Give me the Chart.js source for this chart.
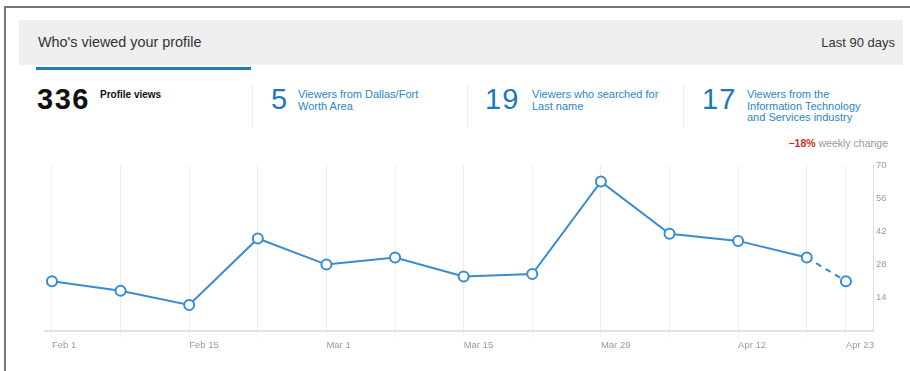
<!DOCTYPE html>
<html>
<head>
<meta charset="utf-8">
<script src="https://cdn.jsdelivr.net/npm/chart.js@4.4.1/dist/chart.umd.min.js"></script>
<style>
  body { margin: 0; background: #fff; font-family: "Liberation Sans", Arial, sans-serif; }
  .frame { position: absolute; left: 4px; top: 6px; width: 906px; height: 370px; border-top: 2px solid #777; border-left: 2px solid #777; }
  .header { position: absolute; left: 19px; top: 20px; width: 884px; height: 45px; background: #efefef; }
  .title { position: absolute; left: 38px; top: 34px; font-size: 14.4px; color: #333; }
  .range { position: absolute; right: 15px; top: 35px; font-size: 13px; color: #333; }
  .tabbar { position: absolute; left: 36px; top: 67px; width: 215px; height: 3px; background: #1f7bc1; }
  .sep { position: absolute; top: 84px; width: 1px; height: 42px; background: #ececec; }
  .big { position: absolute; top: 83px; font-size: 29px; line-height: 32px; letter-spacing: 1px; }
  .lbl { position: absolute; top: 89px; font-size: 11px; line-height: 11.5px; color: #2a86c8; }
  .change { position: absolute; right: 22px; top: 137px; font-size: 10.5px; color: #999; }
  .change b { color: #c9302c; font-weight: bold; }
  #wrap { position: absolute; left: 0; top: 150px; width: 910px; height: 221px; }
</style>
</head>
<body>
<div class="frame"></div>
<div class="header"></div>
<div class="title">Who's viewed your profile</div>
<div class="range">Last 90 days</div>
<div class="tabbar"></div>

<div class="big" style="left:37px;color:#111;font-weight:bold;letter-spacing:1.5px;">336</div>
<div class="lbl" style="left:100px;color:#111;font-weight:bold;font-size:10px;">Profile views</div>
<div class="sep" style="left:252px"></div>
<div class="big" style="left:271px;color:#1c78b8;">5</div>
<div class="lbl" style="left:298px;">Viewers from Dallas/Fort<br>Worth Area</div>
<div class="sep" style="left:467px"></div>
<div class="big" style="left:485px;color:#1c78b8;">19</div>
<div class="lbl" style="left:532px;">Viewers who searched for<br>Last name</div>
<div class="sep" style="left:683px"></div>
<div class="big" style="left:702px;color:#1c78b8;">17</div>
<div class="lbl" style="left:747px;">Viewers from the<br>Information Technology<br>and Services industry</div>
<div class="change"><b>&minus;18%</b> weekly change</div>

<div id="wrap"><canvas id="chart"></canvas></div>

<script>
// days counted from Feb 1, one point per week, last one is the partial week
const weekDays = [0, 7, 14, 21, 28, 35, 42, 49, 56, 63, 70, 77, 81];
const views = [21, 17, 11, 39, 28, 31, 23, 24, 63, 41, 38, 31, 21];
const xTickDays = [0, 14, 28, 42, 56, 70, 81];
const xTickLabels = ['Feb 1', 'Feb 15', 'Mar 1', 'Mar 15', 'Mar 29', 'Apr 12', 'Apr 23'];
const yTicks = [14, 28, 42, 56, 70];

const lineColor = '#3a8bcf';
const lastIdx = views.length - 1;

const elem = document.getElementById('chart').getContext('2d');
new Chart(elem, {
  type: 'line',
  data: {
    datasets: [{
      data: weekDays.map((d, i) => ({ x: d, y: views[i] })),
      borderColor: lineColor,
      borderWidth: 2,
      tension: 0,
      fill: false,
      pointRadius: 5,
      pointBorderWidth: 2,
      pointBackgroundColor: '#fff',
      pointBorderColor: lineColor,
      segment: {
        borderDash: ctx => (ctx.p1DataIndex === lastIdx ? [6, 5] : undefined),
      },
    }],
  },
  options: {
    responsive: true,
    maintainAspectRatio: false,
    animation: false,
    layout: { padding: { top: 15, left: 45, right: 7, bottom: 0 } },
    plugins: { legend: { display: false }, tooltip: { enabled: false } },
    scales: {
      x: {
        type: 'linear',
        bounds: 'data',
        min: -0.71,
        max: 83.76,
        afterBuildTicks: axis => { axis.ticks = weekDays.map(v => ({ value: v })); },
        afterFit: axis => { axis.height = 40; },
        grid: { color: '#eeeeee', lineWidth: 1, tickLength: 6 },
        border: { display: true, color: '#e2e2e2', width: 2 },
        ticks: {
          align: 'start',
          padding: 3,
          color: '#9a9a9a',
          font: { size: 9.5, family: 'Liberation Sans' },
          maxRotation: 0,
          autoSkip: false,
          callback: v => {
            const i = xTickDays.indexOf(v);
            return i >= 0 ? xTickLabels[i] : '';
          },
        },
      },
      y: {
        position: 'right',
        min: 0,
        max: 70,
        afterBuildTicks: axis => { axis.ticks = yTicks.map(v => ({ value: v })); },
        afterFit: axis => { axis.width = 30; },
        grid: { drawOnChartArea: false, drawTicks: false },
        border: { display: true, color: '#dddddd', width: 1 },
        ticks: {
          padding: 3,
          color: '#9a9a9a',
          font: { size: 9.5, family: 'Liberation Sans' },
        },
      },
    },
  },
});
</script>
</body>
</html>
